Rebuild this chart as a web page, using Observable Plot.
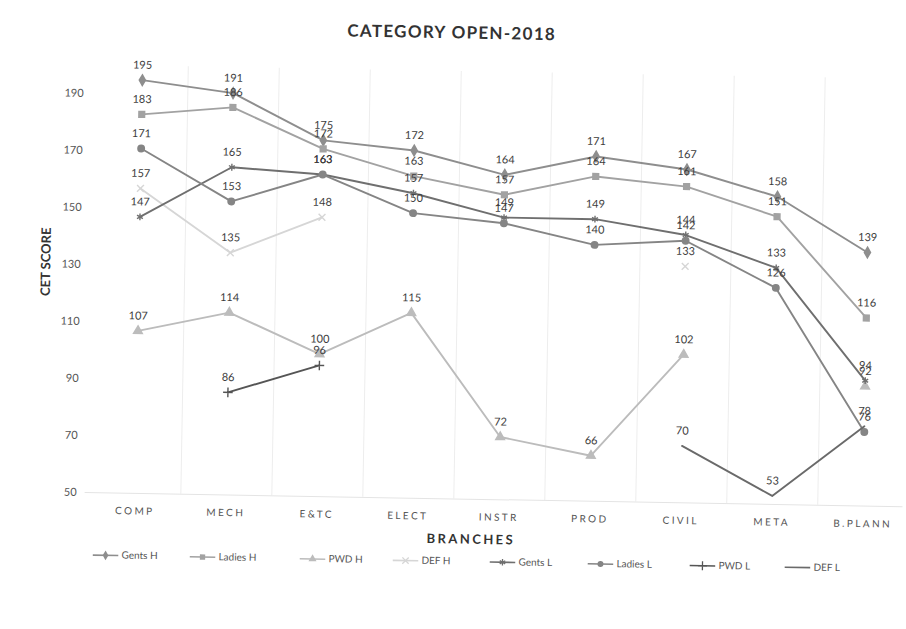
<!DOCTYPE html>
<html>
<head>
<meta charset="utf-8">
<script src="https://cdn.jsdelivr.net/npm/d3@7"></script>
<script src="https://cdn.jsdelivr.net/npm/@observablehq/plot@0.6"></script>
<style>
  html, body { margin: 0; padding: 0; background: #fff; }
  #page {
    position: relative; width: 906px; height: 629px; overflow: visible;
    transform: rotate(1deg); transform-origin: 88px 300px;
    font-family: Lato, "Open Sans", sans-serif;
  }
  #title {
    position: absolute; left: 0; top: 0; width: 894px; height: 46px;
    text-align: center; line-height: 20px; padding-top: 16px; box-sizing: border-box;
    font-weight: 700; font-size: 17px; letter-spacing: 1.3px; color: #333;
  }
  #chart { position: absolute; left: 0; top: 46px; }
  #xtitle {
    position: absolute; left: 0; top: 522px; width: 950px; height: 20px; line-height: 20px;
    text-align: center; font-weight: 700; font-size: 13px; letter-spacing: 2.4px; color: #333;
  }
  .leg { position: absolute; top: 546px; height: 16px; line-height: 16px; font-size: 10px; color: #555; white-space: nowrap; }
  .leg svg { vertical-align: middle; margin-right: 3px; }
  g[aria-label="x-axis tick label"] text { letter-spacing: 2.4px; }
</style>
</head>
<body>
<div id="page">
  <div id="title">CATEGORY OPEN-2018</div>
  <div id="chart"></div>
  <div id="xtitle">BRANCHES</div>
  <div id="legend"></div>
</div>
<script>
const branches = ["COMP", "MECH", "E&TC", "ELECT", "INSTR", "PROD", "CIVIL", "META", "B.PLANN"];
const yTicks = [50, 70, 90, 110, 130, 150, 170, 190];

const gentsH  = [195, 191, 175, 172, 164, 171, 167, 158, 139];
const ladiesH = [183, 186, 172, 163, 157, 164, 161, 151, 116];
const pwdH    = [107, 114, 100, 115, 72, 66, 102, null, 92];
const defH    = [157, 135, 148, null, null, null, 133, null, null];
const gentsL  = [147, 165, 163, 157, 149, 149, 144, 133, 94];
const ladiesL = [171, 153, 163, 150, 147, 140, 142, 126, 76];
const pwdL    = [null, 86, 96, null, null, null, null, null, null];
const defL    = [null, null, null, null, null, null, 70, 53, 78];

const seriesNames = ["Gents H", "Ladies H", "PWD H", "DEF H", "Gents L", "Ladies L", "PWD L", "DEF L"];
const seriesValues = [gentsH, ladiesH, pwdH, defH, gentsL, ladiesL, pwdL, defL];
const seriesColors = ["#8e8e8e", "#a2a2a2", "#bcbcbc", "#d6d6d6", "#6f6f6f", "#858585", "#555555", "#6a6a6a"];
const seriesSymbols = ["diamond", "square", "triangle", "times", "asterisk", "circle", "plus", null];
const strokeSymbols = new Set(["times", "asterisk", "plus"]);
const legendX = [97, 194, 304, 397, 494, 592, 694, 789];

const marks = [
  Plot.ruleX(branches.slice(0, -1), {x: d => d, dx: 45.7, y1: 50, y2: 200, stroke: "#ededed", strokeWidth: 1}),
  Plot.ruleY([50], {stroke: "#e4e4e4", strokeWidth: 1}),
  Plot.axisY({ticks: yTicks, tickSize: 0, tickPadding: 8.5, fontSize: 11, color: "#555", label: null}),
  Plot.axisX({tickSize: 0, tickPadding: 14, fontSize: 10, color: "#555", label: null}),
  Plot.text(["CET SCORE"], {frameAnchor: "left", dx: -43, dy: 18, rotate: -90, fontSize: 13, fontWeight: 700, fill: "#333", style: "letter-spacing:1.8px"})
];

seriesNames.forEach((name, k) => {
  const rows = branches.map((b, i) => ({b, v: seriesValues[k][i]}));
  const valid = rows.filter(d => d.v != null);
  const c = seriesColors[k];
  marks.push(Plot.line(rows, {x: "b", y: "v", stroke: c, strokeWidth: 1.9}));
  const sym = seriesSymbols[k];
  if (sym) {
    if (strokeSymbols.has(sym)) {
      marks.push(Plot.dot(valid, {x: "b", y: "v", symbol: sym, r: 3.2, stroke: c, strokeWidth: 1.4, fill: "none"}));
    } else {
      marks.push(Plot.dot(valid, {x: "b", y: "v", symbol: sym, r: 3.2, fill: c, stroke: c}));
    }
  }
});
seriesNames.forEach((name, k) => {
  const valid = branches.map((b, i) => ({b, v: seriesValues[k][i]})).filter(d => d.v != null);
  marks.push(Plot.text(valid, {x: "b", y: "v", text: d => String(d.v), dy: -15, fontSize: 11, fill: "#3c3c3c"}));
});

const chart = Plot.plot({
  width: 906,
  height: 476,
  marginLeft: 88,
  marginRight: 0,
  marginTop: 18.5,
  marginBottom: 30,
  style: {fontFamily: "Lato, 'Open Sans', sans-serif", background: "transparent", overflow: "visible"},
  x: {type: "point", domain: branches, range: [136, 867], padding: 0},
  y: {domain: [50, 200]},
  marks
});
document.getElementById("chart").appendChild(chart);

const symMap = {diamond: d3.symbolDiamond, square: d3.symbolSquare, triangle: d3.symbolTriangle, times: d3.symbolTimes, asterisk: d3.symbolAsterisk, circle: d3.symbolCircle, plus: d3.symbolPlus};
const legend = document.getElementById("legend");
seriesNames.forEach((name, k) => {
  const div = document.createElement("div");
  div.className = "leg";
  div.style.left = legendX[k] + "px";
  const c = seriesColors[k];
  const sym = seriesSymbols[k];
  let markerSvg = "";
  if (sym) {
    const p = d3.symbol(symMap[sym], 28)();
    markerSvg = strokeSymbols.has(sym)
      ? `<path transform="translate(13,6)" d="${p}" fill="none" stroke="${c}" stroke-width="1.3"/>`
      : `<path transform="translate(13,6)" d="${p}" fill="${c}"/>`;
  }
  div.innerHTML = `<svg width="26" height="12"><line x1="0" x2="26" y1="6" y2="6" stroke="${c}" stroke-width="1.6"/>${markerSvg}</svg>${name}`;
  legend.appendChild(div);
});
</script>
</body>
</html>
